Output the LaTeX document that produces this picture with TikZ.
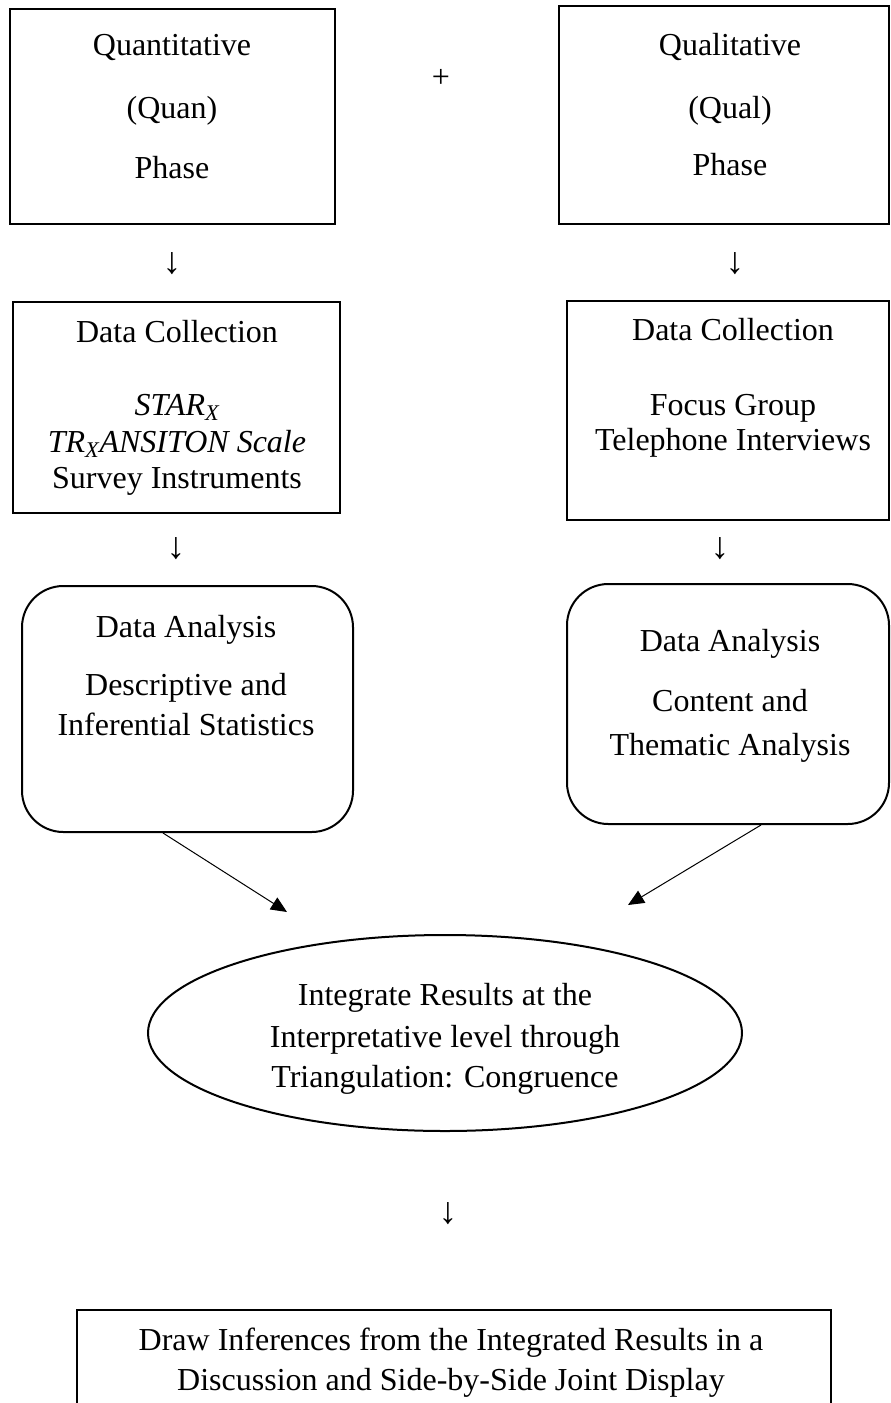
\documentclass[tikz,border=0pt]{standalone}
\usepackage{fontspec}
\setmainfont{Liberation Serif}
\usetikzlibrary{shapes.geometric,arrows.meta}
\begin{document}
\begin{tikzpicture}[x=0.75pt,y=-0.75pt,
  every node/.style={font=\fontsize{24pt}{27.6pt}\selectfont},
  box/.style={draw,line width=1.5pt,inner sep=0pt,anchor=north west,rectangle},
  rbox/.style={box,rounded corners=31pt},
  txt/.style={inner sep=0pt,text height=0.66em,text depth=0pt,anchor=center,yshift=-4.8pt},
  down/.style={txt,font=\fontsize{28pt}{30pt}\selectfont},
  diag/.style={line width=0.75pt,-{Triangle[length=12pt,width=10.5pt]}}]
\clip (0,0) rectangle (890,1403);
\useasboundingbox (0,0) rectangle (890,1403);
% top phase boxes
\node[box,minimum width=243.75pt,minimum height=161.25pt] (quan) at (9,8) {};
\node[txt] (quan1) at (172,45) {Quantitative};
\node[txt] (quan2) at (172,108) {(Quan)};
\node[txt] (quan3) at (172,168) {Phase};
\node[txt] (plus) at (441,77) {+};
\node[box,minimum width=247.5pt,minimum height=163.5pt] (qual) at (558,5) {};
\node[txt] (qual1) at (730,45) {Qualitative};
\node[txt] (qual2) at (730,108) {(Qual)};
\node[txt] (qual3) at (730,165) {Phase};
% arrows
\node[down] (ar1) at (172,263) {↓};
\node[down] (ar2) at (735,263) {↓};
% data collection
\node[box,minimum width=245.25pt,minimum height=158.25pt] (dcl) at (12,301) {};
\node[txt] (dcl1) at (177,332) {Data Collection};
\node[txt] (dcl2) at (177,405) {\textit{STAR\textsubscript{X}}};
\node[txt] (dcl3) at (177,442) {\textit{TR\textsubscript{X}ANSITON Scale}};
\node[txt] (dcl4) at (177,478) {Survey Instruments};
\node[box,minimum width=241.5pt,minimum height=164.25pt] (dcr) at (566,300) {};
\node[txt] (dcr1) at (733,330) {Data Collection};
\node[txt] (dcr2) at (733,405) {Focus Group};
\node[txt] (dcr3) at (733,440) {Telephone Interviews};
\node[down] (ar3) at (176,548) {↓};
\node[down] (ar4) at (720,548) {↓};
% data analysis
\node[rbox,minimum width=248.25pt,minimum height=184.5pt] (dal) at (21,585) {};
\node[txt] (dal1) at (186,627) {Data Analysis};
\node[txt] (dal2) at (186,685) {Descriptive and};
\node[txt] (dal3) at (186,725) {Inferential Statistics};
\node[rbox,minimum width=241.5pt,minimum height=180pt] (dar) at (566,583) {};
\node[txt] (dar1) at (730,641) {Data Analysis};
\node[txt] (dar2) at (730,701) {Content and};
\node[txt] (dar3) at (730,745) {Thematic Analysis};
% diagonal arrows
\coordinate (t1) at (287,912);
\coordinate (t2) at (628,905);
\draw[diag] (dal.south west) ++(142,0) -- (t1);
\draw[diag] (dar.south west) ++(195,0) -- (t2);
% ellipse
\node[draw,ellipse,line width=1.5pt,inner sep=0pt,minimum width=445.5pt,minimum height=147pt] (int) at (445,1033) {};
\node[txt] (int1) at (445,995) {Integrate Results at the};
\node[txt] (int2) at (445,1037) {Interpretative level through};
\node[txt] (int3) at (445,1077) {Triangulation: Congruence};
\node[down] (ar5) at (448,1213) {↓};
% bottom box
\node[box,minimum width=565.5pt,minimum height=98.25pt] (inf) at (76,1309) {};
\node[txt] (inf1) at (451,1340) {Draw Inferences from the Integrated Results in a};
\node[txt] (inf2) at (451,1380) {Discussion and Side-by-Side Joint Display};
\end{tikzpicture}
\end{document}
